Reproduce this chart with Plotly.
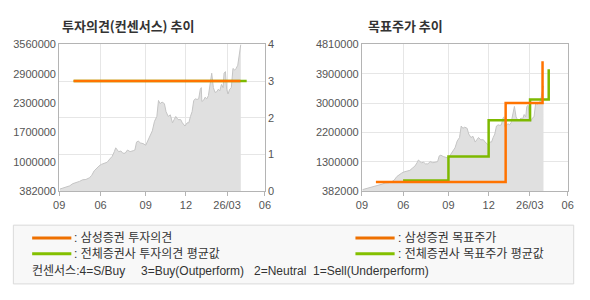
import plotly.graph_objects as go

# ---- data ----
price_x = [0.05, 0.29, 0.52, 0.76, 1.0, 1.24, 1.48, 1.71, 1.95, 2.19, 2.36, 2.55, 2.74, 2.90, 3.07,
           3.26, 3.5, 3.69, 3.86, 4.02, 4.12, 4.33, 4.5, 4.64, 4.81, 4.98, 5.17, 5.4, 5.52, 5.64,
           5.76, 5.93, 6.12, 6.31, 6.48, 6.6, 6.79, 6.95, 7.12, 7.24, 7.36, 7.5, 7.67, 7.79, 7.95,
           8.1, 8.26, 8.38, 8.5, 8.67, 8.86, 8.98, 9.17, 9.33, 9.45, 9.57, 9.69, 9.81, 9.93, 10.05,
           10.17, 10.29, 10.36, 10.4, 10.52, 10.64, 10.76, 10.88, 11.0, 11.12, 11.24, 11.36, 11.48,
           11.6, 11.71, 11.83, 11.95, 12.02, 12.12, 12.21, 12.31, 12.43, 12.55, 12.67, 12.79, 12.9,
           13.02, 13.1, 13.17, 13.24]
price_y = [424000, 451000, 472000, 493000, 542000, 562000, 590000, 625000, 632000, 666000, 715000,
           819000, 888000, 923000, 958000, 972000, 1006000, 1076000, 1131000, 1235000, 1318000,
           1235000, 1249000, 1201000, 1201000, 1270000, 1235000, 1256000, 1270000, 1443000, 1464000,
           1423000, 1409000, 1374000, 1492000, 1582000, 1686000, 1894000, 1998000, 2345000, 2276000,
           2310000, 2276000, 2102000, 1998000, 2033000, 1860000, 1929000, 1998000, 1929000, 1929000,
           1860000, 1790000, 1860000, 1860000, 1998000, 2102000, 2345000, 2380000, 2366000, 2380000,
           2588000, 2623000, 2324000, 2345000, 2415000, 2380000, 2449000, 2657000, 2935000, 2623000,
           2519000, 2532000, 2588000, 2553000, 2692000, 2623000, 2935000, 2970000, 2588000, 2484000,
           2588000, 2623000, 3039000, 3004000, 3039000, 3108000, 3247000, 3420000, 3559000]

# investment opinion (consensus scale 0-4)
opinion_x = [1.05, 13.21]
opinion_y = [3, 3]
avg_opinion_x = [1.05, 13.67]
avg_opinion_y = [3, 3]

# target prices (step)
target_x = [1.02, 10.48, 13.17]
target_y = [650000, 3040000, 4300000]
avg_target_x = [3.0, 6.31, 9.24, 12.26, 13.62]
avg_target_y = [700000, 1422000, 2519000, 3145000, 4059000]

x_tickvals = [0, 3.02, 6.31, 9.24, 12.24, 15]
x_ticktext = ["09", "06", "09", "12", "26/03", "06"]

left_range = [382000, 3560000]
left_ticktext = ["382000", "1000000", "1700000", "2300000", "2900000", "3560000"]
right_range = [382000, 4810000]
right_ticktext = ["382000", "1300000", "2200000", "3000000", "3900000", "4810000"]

legend_labels = [": 삼성증권 투자의견", ": 전체증권사 투자의견 평균값",
                 ": 삼성증권 목표주가", ": 전체증권사 목표주가 평균값"]
consensus_labels = ["컨센서스:4=S/Buy", "3=Buy(Outperform)", "2=Neutral", "1=Sell(Underperform)"]

ORANGE = "#FF7300"
GREEN = "#7DB900"
GRID = "#E6E6E6"
AXL = "#B4B4B4"
TICKFONT = dict(family="Liberation Sans, Arial", size=11, color="#555555")

def even(r):
    step = (r[1] - r[0]) / 5
    return [r[0] + i * step for i in range(6)]

fig = go.Figure()

# left chart
fig.add_trace(go.Scatter(x=price_x, y=price_y, mode="lines", fill="tozeroy",
                         line=dict(color="#C4C4C4", width=1), fillcolor="#E0E0E0",
                         xaxis="x", yaxis="y", hoverinfo="skip"))
fig.add_trace(go.Scatter(x=avg_opinion_x, y=avg_opinion_y, mode="lines",
                         line=dict(color=GREEN, width=2.5), xaxis="x", yaxis="y2"))
fig.add_trace(go.Scatter(x=opinion_x, y=opinion_y, mode="lines",
                         line=dict(color=ORANGE, width=2.5), xaxis="x", yaxis="y2"))

# right chart
fig.add_trace(go.Scatter(x=price_x, y=price_y, mode="lines", fill="tozeroy",
                         line=dict(color="#C4C4C4", width=1), fillcolor="#E0E0E0",
                         xaxis="x2", yaxis="y3", hoverinfo="skip"))
fig.add_trace(go.Scatter(x=avg_target_x, y=avg_target_y, mode="lines", line_shape="hv",
                         line=dict(color=GREEN, width=2.5), xaxis="x2", yaxis="y3"))
fig.add_trace(go.Scatter(x=target_x, y=target_y, mode="lines", line_shape="hv",
                         line=dict(color=ORANGE, width=2.5), xaxis="x2", yaxis="y3"))

ydom = [(300 - 192.7) / 300, (300 - 40) / 300]
xcommon = dict(range=[0, 15], tickvals=x_tickvals, ticktext=x_ticktext, showgrid=True,
               gridcolor=GRID, gridwidth=1, showline=True, linecolor=AXL, linewidth=1,
               mirror=True, ticks="outside", ticklen=4, tickcolor=AXL, tickfont=TICKFONT,
               zeroline=False, fixedrange=True)

fig.update_layout(
    width=590, height=300,
    margin=dict(l=0, r=0, t=0, b=0),
    paper_bgcolor="white", plot_bgcolor="white",
    showlegend=False,
    xaxis=dict(domain=[54.3 / 590, 264.3 / 590], anchor="y", **xcommon),
    xaxis2=dict(domain=[363.3 / 590, 573.3 / 590], anchor="y3", **xcommon),
    yaxis=dict(domain=ydom, range=left_range, tickvals=even(left_range), ticktext=left_ticktext,
               showgrid=False, zeroline=False, showline=True, linecolor=AXL, ticks="",
               tickfont=TICKFONT, anchor="x", fixedrange=True),
    yaxis2=dict(domain=ydom, range=[0, 4], dtick=1, overlaying="y", side="right", anchor="x",
                showgrid=True, gridcolor=GRID, zeroline=False, showline=True, linecolor=AXL,
                ticks="", tickfont=TICKFONT, fixedrange=True),
    yaxis3=dict(domain=ydom, range=right_range, tickvals=even(right_range),
                ticktext=right_ticktext, showgrid=True, gridcolor=GRID, zeroline=False,
                showline=True, linecolor=AXL, mirror=True, ticks="", tickfont=TICKFONT,
                anchor="x2", fixedrange=True),
)

TITLEFONT = dict(family="Noto Sans CJK KR", size=13, color="#333333")
LEGFONT = dict(family="Liberation Sans, Noto Sans CJK KR", size=12, color="#333333")

def yp(py):
    return 1 - py / 300

anns = [
    dict(text="<b>투자의견(컨센서스) 추이</b>", x=55 / 590, y=yp(20), font=TITLEFONT),
    dict(text="<b>목표주가 추이</b>", x=367 / 590, y=yp(20), font=TITLEFONT),
]
leg_pos = [(67.5, 241.7), (67.5, 258.2), (398, 241.7), (398, 258.2)]
for lab, (lx, ly) in zip(legend_labels, leg_pos):
    anns.append(dict(text=lab, x=lx / 590, y=yp(ly), font=LEGFONT))
cons_x = [25, 135.5, 251, 311]
for lab, cx in zip(consensus_labels, cons_x):
    anns.append(dict(text=lab, x=cx / 590, y=yp(276.5), font=LEGFONT))
for a in anns:
    a.update(xref="paper", yref="paper", showarrow=False, xanchor="left", yanchor="middle")
fig.update_layout(annotations=anns)

LEG_OR = "#EE7000"
LEG_GR = "#84C000"
shapes = [
    dict(type="rect", x0=7.5 / 590, x1=579.5 / 590, y0=yp(289.5), y1=yp(228.3),
         line=dict(color="#DADADA", width=1), fillcolor="#F8F8F8", layer="below"),
]
seg = [(26.7, 66.7, 241.7, LEG_OR), (26.7, 66.7, 258.2, LEG_GR),
       (356.7, 396.7, 241.7, LEG_OR), (356.7, 396.7, 258.2, LEG_GR)]
for x0, x1, yy, c in seg:
    shapes.append(dict(type="line", x0=x0 / 590, x1=x1 / 590, y0=yp(yy), y1=yp(yy),
                       line=dict(color=c, width=3)))
for s in shapes:
    s.update(xref="paper", yref="paper")
fig.update_layout(shapes=shapes)

fig.write_html("out.html", config=dict(displayModeBar=False))
